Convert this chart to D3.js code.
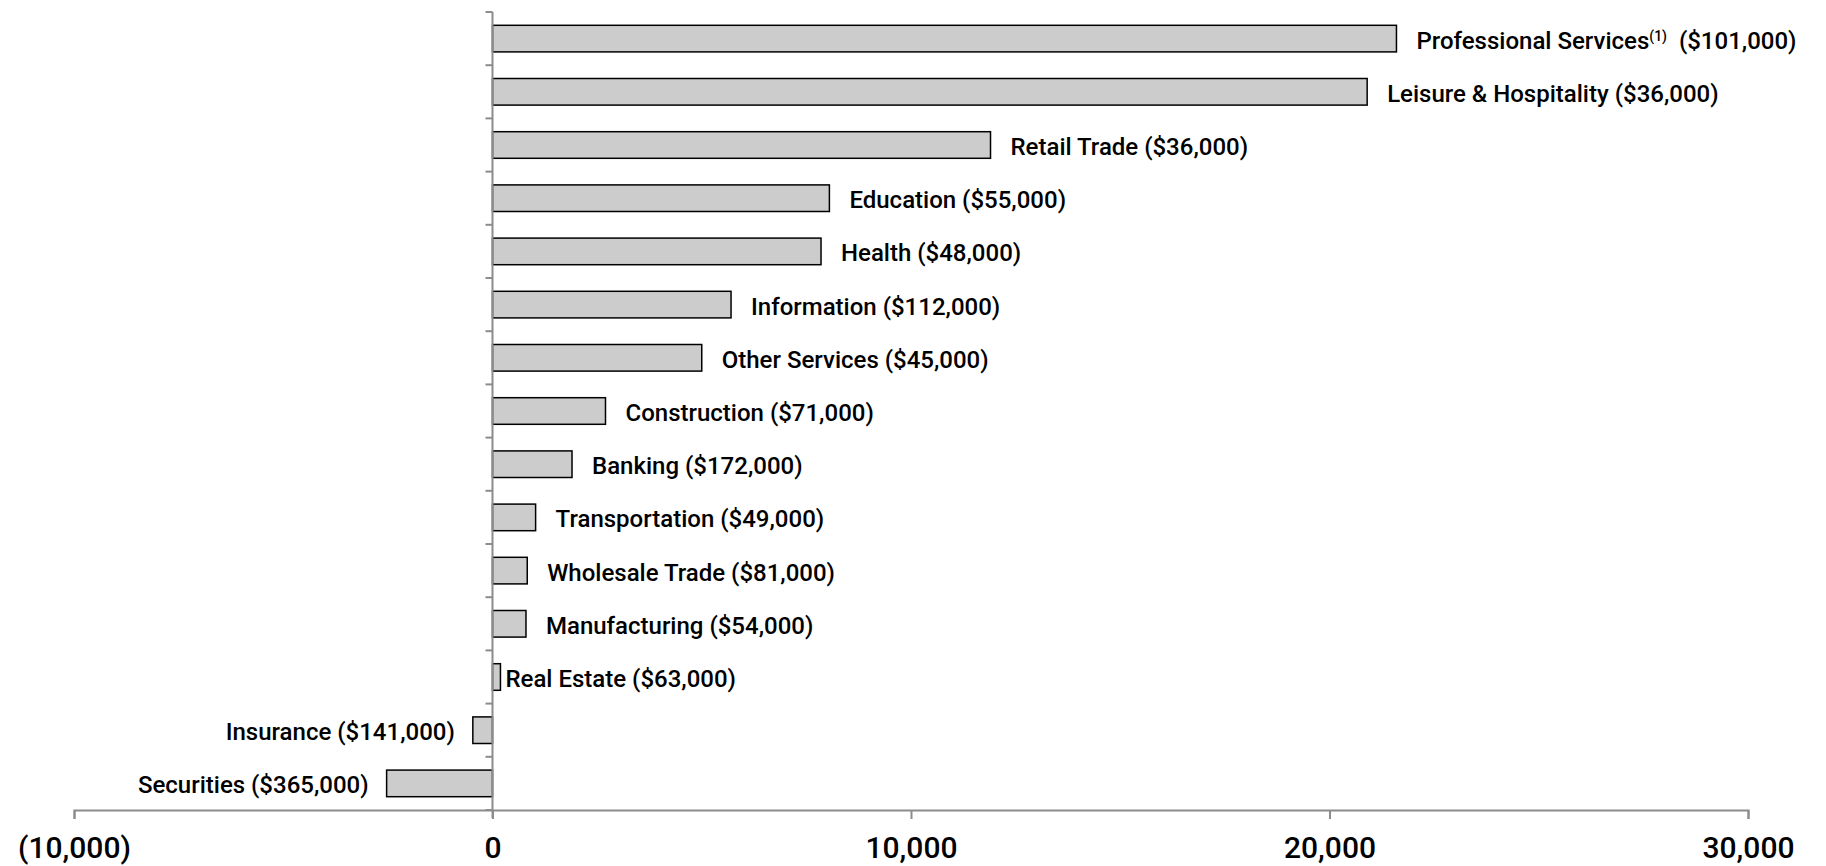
<!DOCTYPE html>
<html><head><meta charset="utf-8">
<script src="https://cdn.jsdelivr.net/npm/d3@7"></script>
<style>body{margin:0;background:#fff}text{font-family:Roboto,"Liberation Sans",sans-serif}</style>
</head><body><div id="canvas"></div>
<script>
const categories = ["Professional Services", "Leisure & Hospitality", "Retail Trade", "Education", "Health",
  "Information", "Other Services", "Construction", "Banking", "Transportation", "Wholesale Trade",
  "Manufacturing", "Real Estate", "Insurance", "Securities"];
const values = [21600, 20900, 11900, 8050, 7850, 5700, 5000, 2700, 1900, 1030, 830, 800, 190, -470, -2530];
const wages = ["$101,000", "$36,000", "$36,000", "$55,000", "$48,000", "$112,000", "$45,000", "$71,000",
  "$172,000", "$49,000", "$81,000", "$54,000", "$63,000", "$141,000", "$365,000"];
const xTicks = [-10000, 0, 10000, 20000, 30000];

const width = 1826, height = 866;
const margin = { top: 12, left: 74, bottom: 56, right: 78 };
const svg = d3.select("#canvas").append("svg").attr("width", width).attr("height", height);

const x = d3.scaleLinear().domain([-10000, 30000]).range([margin.left, width - margin.right]);
const y = d3.scaleBand().domain(categories).range([margin.top, height - margin.bottom]).paddingInner(0.5).paddingOuter(0.25);
const step = y.step();
const axisColor = "#8c8c8c";

svg.selectAll("rect.bar").data(categories).enter().append("rect")
  .attr("x", (d, i) => Math.min(x(0), x(values[i])))
  .attr("y", d => y(d))
  .attr("width", (d, i) => Math.abs(x(values[i]) - x(0)))
  .attr("height", y.bandwidth())
  .attr("fill", "#cccccc").attr("stroke", "#000").attr("stroke-width", 1.5);

const lab = svg.selectAll("text.lab").data(categories).enter().append("text")
  .attr("x", (d, i) => values[i] >= 0 ? x(values[i]) + (i === 12 ? 5 : 20) : x(values[i]) - 18)
  .attr("y", d => y(d) + y.bandwidth() / 2 + 10)
  .attr("text-anchor", (d, i) => values[i] >= 0 ? "start" : "end")
  .attr("font-size", 24).attr("font-weight", 500).attr("fill", "#000");
lab.each(function (d, i) {
  const t = d3.select(this);
  t.append("tspan").text(d);
  if (i === 0) t.append("tspan").attr("font-size", 14).attr("dy", -8).text("(1)");
  t.append("tspan").attr("dy", i === 0 ? 8 : null).text((i === 0 ? "  " : " ") + "(" + wages[i] + ")")
    .attr("xml:space", "preserve");
});

// vertical axis at zero
const yb = height - margin.bottom;
svg.append("line").attr("x1", x(0)).attr("x2", x(0)).attr("y1", margin.top).attr("y2", yb + 8)
  .attr("stroke", axisColor).attr("stroke-width", 2);
const bounds = d3.range(categories.length + 1).map(i => margin.top + i * step);
svg.selectAll("line.yt").data(bounds).enter().append("line")
  .attr("x1", x(0) - 7).attr("x2", x(0)).attr("y1", d => d).attr("y2", d => d)
  .attr("stroke", axisColor).attr("stroke-width", 2);

// horizontal axis
const xAxis = svg.append("g").attr("transform", `translate(0,${yb})`)
  .call(d3.axisBottom(x).tickValues(xTicks).tickSize(9).tickPadding(18)
    .tickFormat(d => d < 0 ? "(" + d3.format(",")(-d) + ")" : d3.format(",")(d)));
xAxis.select(".domain").attr("stroke", axisColor).attr("stroke-width", 2);
xAxis.selectAll(".tick line").attr("stroke", axisColor).attr("stroke-width", 2);
xAxis.selectAll(".tick text").attr("font-size", 30).attr("font-weight", 500).attr("fill", "#000")
  .style("font-family", 'Roboto,"Liberation Sans",sans-serif');
</script></body></html>
